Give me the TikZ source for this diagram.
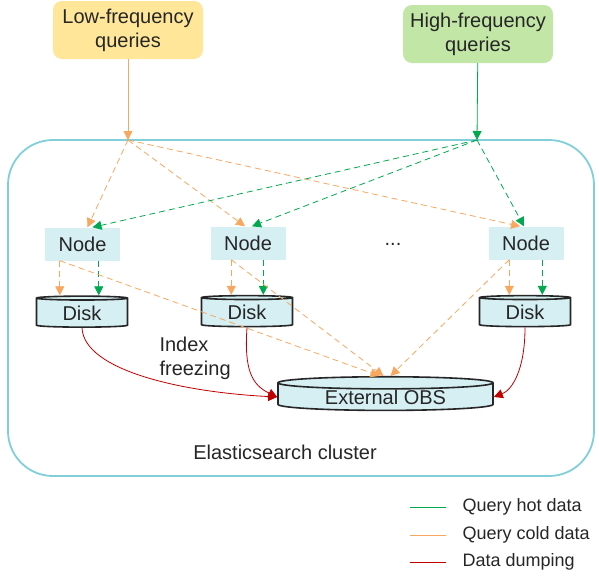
\documentclass[tikz,border=0pt]{standalone}
\usepackage{fontspec}
\setmainfont{Liberation Sans}
\usetikzlibrary{arrows.meta,positioning,shapes.geometric}

\definecolor{lowfill}{HTML}{FFE699}
\definecolor{highfill}{HTML}{C2E6A6}
\definecolor{esfill}{HTML}{D5EFF3}
\definecolor{clusterline}{HTML}{80CFD9}
\definecolor{coldline}{HTML}{F8A75F}
\definecolor{hotline}{HTML}{00A94F}
\definecolor{dumpline}{HTML}{C00000}

\begin{document}
\begin{tikzpicture}[
  x=1pt,y=-1pt,
  txt/.style={font=\fontsize{20}{24}\selectfont,text=black!85},
  query/.style={txt,rounded corners=9pt,align=center,minimum width=150,minimum height=58,inner sep=2pt},
  esnode/.style={txt,fill=esfill,minimum width=75,minimum height=33,inner sep=0pt},
  disk/.style={txt,cylinder,shape border rotate=90,draw=black!85,line width=1.6pt,fill=esfill,
    aspect=0.1,minimum width=91,minimum height=31,inner sep=0pt},
  tip/.style={-{Triangle[length=9pt,width=9pt]}},
  cold/.style={tip,coldline,dashed,dash pattern=on 6pt off 4pt,line width=0.8pt},
  hot/.style={tip,hotline,dashed,dash pattern=on 6pt off 4pt,line width=0.8pt},
  dump/.style={tip,dumpline,line width=0.8pt},
]
\useasboundingbox (0,0) rectangle (599,579);

% cluster frame
\node[draw=clusterline,line width=1.8pt,rounded corners=45pt,minimum width=586,minimum height=336,inner sep=0pt]
  (cluster) at (301,308) {};
\node[txt] (clname) at (285,452) {Elasticsearch cluster};

% query sources
\node[query,fill=lowfill] (low) at (128,30) {Low-frequency\\queries};
\node[query,fill=highfill] (high) at (478,34) {High-frequency\\queries};
\coordinate (lq) at (128,140);
\coordinate (hq) at (477,140);
\draw[tip,coldline,line width=0.8pt] (low) -- (lq);
\draw[tip,hotline,line width=0.8pt] (high) -- (hq);

% data nodes and disks
\node[esnode] (n1) at (82.5,244) {Node};
\node[esnode] (n2) at (248,243) {Node};
\node[esnode] (n3) at (526,243) {Node};
\node[txt] (dots) at (393,244) {...};
\node[disk] (d1) at (82,313) {Disk};
\node[disk] (d2) at (247,312.5) {Disk};
\node[disk] (d3) at (525,312.5) {Disk};
\node[disk,minimum width=215,minimum height=31] (obs) at (385.5,397) {External OBS};
\node[txt,align=left,anchor=west] (freeze) at (156,358) {Index\\freezing};

% query paths
\draw[cold] (lq) -- ([xshift=5]n1.north);
\draw[cold] (lq) -- ([xshift=-3]n2.north);
\draw[cold] (lq) -- ([xshift=-6]n3.north);
\draw[hot] (hq) -- ([xshift=10]n1.north);
\draw[hot] (hq) -- ([xshift=4]n2.north);
\draw[hot] (hq) -- ([xshift=-2]n3.north);

\draw[cold] ([xshift=15]n1.south west) -- ([xshift=15]n1.south west |- d1.north);
\draw[hot] ([xshift=54]n1.south west) -- ([xshift=54]n1.south west |- d1.north);
\draw[cold] ([xshift=21]n2.south west) -- ([xshift=21]n2.south west |- d2.north);
\draw[hot] ([xshift=53]n2.south west) -- ([xshift=53]n2.south west |- d2.north);
\draw[cold] ([xshift=21]n3.south west) -- ([xshift=21]n3.south west |- d3.north);
\draw[hot] ([xshift=54]n3.south west) -- ([xshift=54]n3.south west |- d3.north);

\draw[cold] ([xshift=15]n1.south west) -- ([xshift=-6]obs.north);
\draw[cold] ([xshift=21]n2.south west) -- ([xshift=-2]obs.north);
\draw[cold] ([xshift=21]n3.south west) -- ([xshift=5]obs.north);

% dumping
\draw[dump] (d1.south) .. controls (84,370) and (180,392) .. (obs.west);
\draw[dump] (d2.south) .. controls (244,370) and (252,385) .. (obs.west);
\draw[dump] (d3.south) .. controls (525,370) and (512,390) .. (obs.east);

% legend
\node[txt,font=\fontsize{18}{22}\selectfont,anchor=west] (leghot) at (459,507) {Query hot data};
\node[txt,font=\fontsize{18}{22}\selectfont,anchor=west] (legcold) at (459,535) {Query cold data};
\node[txt,font=\fontsize{18}{22}\selectfont,anchor=west] (legdump) at (459,562) {Data dumping};
\draw[hotline,line width=0.8pt] ([xshift=-49]leghot.west) -- ([xshift=-13]leghot.west);
\draw[coldline,line width=0.8pt] ([xshift=-49]legcold.west) -- ([xshift=-13]legcold.west);
\draw[dumpline,line width=0.8pt] ([xshift=-49]legdump.west) -- ([xshift=-13]legdump.west);
\end{tikzpicture}
\end{document}
